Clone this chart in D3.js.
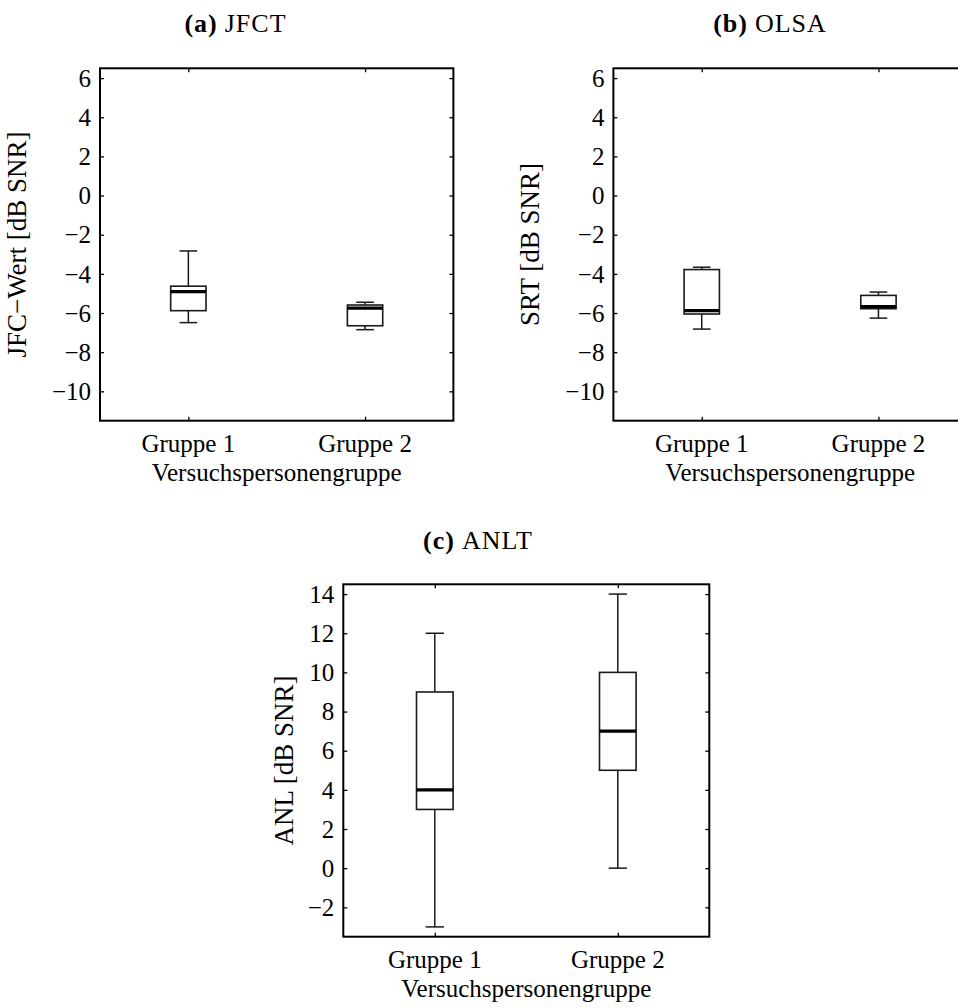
<!DOCTYPE html>
<html>
<head>
<meta charset="utf-8">
<script src="https://cdn.jsdelivr.net/npm/d3@7"></script>
<style>
  html, body { margin: 0; padding: 0; background: #fff; }
  svg { display: block; }
  text { font-family: "Liberation Serif", "Times New Roman", serif; fill: #000; }
</style>
</head>
<body>
<svg id="chart" width="958" height="1008"></svg>
<script>
// Groups shown on every x axis
const groups = ["Gruppe 1", "Gruppe 2"];

// (a) JFCT — box-plot statistics per group [dB SNR]
const jfctWhiskerLow  = [-6.49, -6.85];
const jfctQ1          = [-5.88, -6.65];
const jfctMedian      = [-4.91, -5.75];
const jfctQ3          = [-4.63, -5.59];
const jfctWhiskerHigh = [-2.83, -5.45];

// (b) OLSA — speech reception thresholds [dB SNR]
const olsaWhiskerLow  = [-6.82, -6.26];
const olsaQ1          = [-6.05, -5.78];
const olsaMedian      = [-5.88, -5.67];
const olsaQ3          = [-3.78, -5.10];
const olsaWhiskerHigh = [-3.66, -4.93];

// (c) ANLT — acceptable noise levels [dB SNR]
const anltWhiskerLow  = [-3, 0];
const anltQ1          = [3, 5];
const anltMedian      = [4, 7];
const anltQ3          = [9, 10];
const anltWhiskerHigh = [12, 14];

// Tick values
const topRowTicks = [-10, -8, -6, -4, -2, 0, 2, 4, 6];
const anltTicks   = [-2, 0, 2, 4, 6, 8, 10, 12, 14];

// Panel captions and axis labels
const panelLetters = ["(a)", "(b)", "(c)"];
const panelNames   = ["JFCT", "OLSA", "ANLT"];
const yLabels      = ["JFC\u2212Wert [dB SNR]", "SRT [dB SNR]", "ANL [dB SNR]"];
const xLabel       = "Versuchspersonengruppe";

const svg = d3.select("#chart");
const fmt = d3.format("");

function drawPanel(opt) {
  const x = d3.scaleLinear().domain([0.5, 2.5]).range([opt.left, opt.right]);
  const y = d3.scaleLinear().domain(opt.domain).range([opt.bottom, opt.top]);
  const g = svg.append("g");
  const tickLen = 4;
  const boxW = 0.2;

  // frame ticks (inward on all four sides)
  const yAxisL = d3.axisRight(y).tickValues(opt.ticks).tickSize(tickLen).tickFormat("");
  const yAxisR = d3.axisLeft(y).tickValues(opt.ticks).tickSize(tickLen).tickFormat("");
  const xAxisB = d3.axisTop(x).tickValues([1, 2]).tickSize(tickLen).tickFormat("");
  const xAxisT = d3.axisBottom(x).tickValues([1, 2]).tickSize(tickLen).tickFormat("");
  [
    [yAxisL, `translate(${opt.left},0)`],
    [yAxisR, `translate(${opt.right},0)`],
    [xAxisB, `translate(0,${opt.bottom})`],
    [xAxisT, `translate(0,${opt.top})`]
  ].forEach(([ax, tr]) => {
    const a = g.append("g").attr("transform", tr).call(ax);
    a.select(".domain").remove();
    a.selectAll("line").attr("stroke", "#000").attr("stroke-width", 1.3);
  });

  // frame
  g.append("rect")
    .attr("x", opt.left).attr("y", opt.top)
    .attr("width", opt.right - opt.left).attr("height", opt.bottom - opt.top)
    .attr("fill", "none").attr("stroke", "#000").attr("stroke-width", 2);

  // y tick labels
  g.selectAll("text.ytick").data(opt.ticks).enter().append("text")
    .attr("class", "ytick")
    .attr("x", opt.left - 9).attr("y", d => y(d)).attr("dy", "0.35em")
    .attr("text-anchor", "end").attr("font-size", 25)
    .text(d => fmt(d));

  // category labels
  g.selectAll("text.xtick").data(groups).enter().append("text")
    .attr("class", "xtick")
    .attr("x", (d, i) => x(i + 1)).attr("y", opt.bottom + 31)
    .attr("text-anchor", "middle").attr("font-size", 25)
    .text(d => d);

  // x axis title
  g.append("text")
    .attr("x", (opt.left + opt.right) / 2).attr("y", opt.bottom + 60)
    .attr("text-anchor", "middle").attr("font-size", 25)
    .text(xLabel);

  // y axis title
  g.append("text")
    .attr("transform", `translate(${opt.left - opt.yLabelGap},${(opt.top + opt.bottom) / 2}) rotate(-90)`)
    .attr("text-anchor", "middle").attr("font-size", 27)
    .text(opt.yLabel);

  // caption
  const cap = g.append("text")
    .attr("x", opt.capX).attr("y", opt.capY)
    .attr("text-anchor", "middle").attr("font-size", 26)
    .attr("letter-spacing", 1);
  cap.append("tspan").attr("font-weight", "bold").text(opt.letter);
  cap.append("tspan").attr("dx", 7).text(opt.name);

  // boxes
  const stats = groups.map((gName, i) => ({
    pos: i + 1,
    lo: opt.lo[i], q1: opt.q1[i], med: opt.med[i], q3: opt.q3[i], hi: opt.hi[i]
  }));
  const bw = x(1 + boxW / 2) - x(1 - boxW / 2);
  const cw = bw / 2;
  const stroke = "#1a1a1a";

  const b = g.selectAll("g.box").data(stats).enter().append("g").attr("class", "box");
  // whiskers
  b.append("line")
    .attr("x1", d => x(d.pos)).attr("x2", d => x(d.pos))
    .attr("y1", d => y(d.q3)).attr("y2", d => y(d.hi))
    .attr("stroke", stroke).attr("stroke-width", 1.5);
  b.append("line")
    .attr("x1", d => x(d.pos)).attr("x2", d => x(d.pos))
    .attr("y1", d => y(d.q1)).attr("y2", d => y(d.lo))
    .attr("stroke", stroke).attr("stroke-width", 1.5);
  // caps
  b.append("line")
    .attr("x1", d => x(d.pos) - cw / 2).attr("x2", d => x(d.pos) + cw / 2)
    .attr("y1", d => y(d.hi)).attr("y2", d => y(d.hi))
    .attr("stroke", stroke).attr("stroke-width", 1.5);
  b.append("line")
    .attr("x1", d => x(d.pos) - cw / 2).attr("x2", d => x(d.pos) + cw / 2)
    .attr("y1", d => y(d.lo)).attr("y2", d => y(d.lo))
    .attr("stroke", stroke).attr("stroke-width", 1.5);
  // box
  b.append("rect")
    .attr("x", d => x(d.pos) - bw / 2).attr("width", bw)
    .attr("y", d => y(d.q3)).attr("height", d => y(d.q1) - y(d.q3))
    .attr("fill", "#fff").attr("stroke", stroke).attr("stroke-width", 1.6);
  // median
  b.append("line")
    .attr("x1", d => x(d.pos) - bw / 2).attr("x2", d => x(d.pos) + bw / 2)
    .attr("y1", d => y(d.med)).attr("y2", d => y(d.med))
    .attr("stroke", "#000").attr("stroke-width", 3.2);
}

drawPanel({
  left: 100, right: 453.4, top: 68.3, bottom: 420.7, domain: [-11.5, 6.5],
  ticks: topRowTicks, yLabel: yLabels[0], yLabelGap: 74,
  letter: panelLetters[0], name: panelNames[0], capX: 235.5, capY: 32,
  lo: jfctWhiskerLow, q1: jfctQ1, med: jfctMedian, q3: jfctQ3, hi: jfctWhiskerHigh
});

drawPanel({
  left: 613.4, right: 966.8, top: 68.3, bottom: 420.7, domain: [-11.5, 6.5],
  ticks: topRowTicks, yLabel: yLabels[1], yLabelGap: 74,
  letter: panelLetters[1], name: panelNames[1], capX: 770, capY: 32,
  lo: olsaWhiskerLow, q1: olsaQ1, med: olsaMedian, q3: olsaQ3, hi: olsaWhiskerHigh
});

drawPanel({
  left: 343.3, right: 709.3, top: 584.3, bottom: 936.7, domain: [-3.5, 14.5],
  ticks: anltTicks, yLabel: yLabels[2], yLabelGap: 50,
  letter: panelLetters[2], name: panelNames[2], capX: 478, capY: 549,
  lo: anltWhiskerLow, q1: anltQ1, med: anltMedian, q3: anltQ3, hi: anltWhiskerHigh
});
</script>
</body>
</html>
